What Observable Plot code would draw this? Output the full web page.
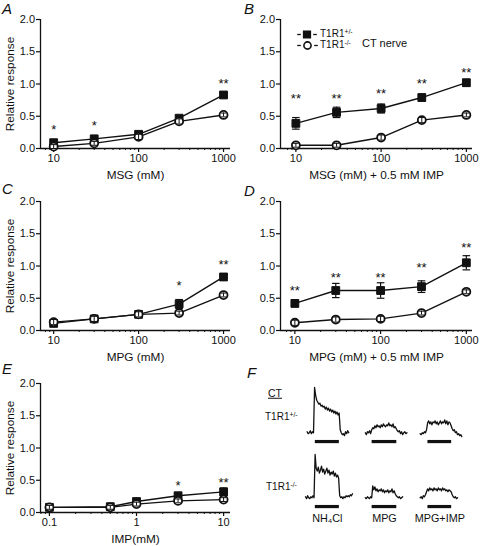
<!DOCTYPE html>
<html>
<head>
<meta charset="utf-8">
<script src="https://cdn.jsdelivr.net/npm/d3@7"></script>
<script src="https://cdn.jsdelivr.net/npm/@observablehq/plot@0.6"></script>
<style>
  body { margin: 0; background: #fff; }
  #fig { position: relative; width: 480px; height: 546px; background: #fff; overflow: hidden;
         font-family: "Liberation Sans", Arial, Helvetica, sans-serif; color: #111; }
  .pl { position: absolute; }
  .lab { position: absolute; line-height: 1; white-space: nowrap; transform: translateY(-50%); }
  .letter { position: absolute; font-style: italic; font-size: 15px; line-height: 1; }
  .sup { position: relative; top: -0.45em; font-size: 0.68em; }
</style>
</head>
<body>
<div id="fig"></div>
<script>
// ---------------- data ----------------
const concMSG = [10, 30, 100, 300, 1000];
const concIMP = [0.1, 0.5, 1, 3, 10];

// Panel A : MSG
const A_het = [0.09, 0.15, 0.22, 0.47, 0.83];
const A_hetErr = [0.03, 0.03, 0.03, 0.03, 0.04];
const A_ko = [0.03, 0.08, 0.18, 0.42, 0.52];
const A_koErr = [0.03, 0.03, 0.04, 0.04, 0.03];
const A_starX = [10, 30, 1000];
const A_starY = [0.35, 0.40, 1.05];
const A_star = ["*", "*", "**"];

// Panel B : MSG + 0.5 mM IMP
const B_het = [0.39, 0.56, 0.62, 0.79, 1.02];
const B_hetErr = [0.09, 0.08, 0.07, 0.05, 0.05];
const B_ko = [0.05, 0.05, 0.17, 0.44, 0.52];
const B_koErr = [0.03, 0.03, 0.04, 0.04, 0.03];
const B_starX = [10, 30, 100, 300, 1000];
const B_starY = [0.83, 0.83, 0.90, 1.06, 1.22];
const B_star = ["**", "**", "**", "**", "**"];

// Panel C : MPG
const C_het = [0.11, 0.18, 0.25, 0.41, 0.83];
const C_hetErr = [0.03, 0.03, 0.04, 0.07, 0.05];
const C_ko = [0.13, 0.18, 0.25, 0.27, 0.55];
const C_koErr = [0.04, 0.04, 0.04, 0.03, 0.03];
const C_starX = [300, 1000];
const C_starY = [0.74, 1.08];
const C_star = ["*", "**"];

// Panel D : MPG + 0.5 mM IMP
const D_het = [0.42, 0.62, 0.62, 0.68, 1.05];
const D_hetErr = [0.05, 0.11, 0.12, 0.09, 0.11];
const D_ko = [0.12, 0.17, 0.18, 0.27, 0.60];
const D_koErr = [0.04, 0.04, 0.04, 0.03, 0.03];
const D_starX = [10, 30, 100, 300, 1000];
const D_starY = [0.67, 0.87, 0.87, 1.03, 1.34];
const D_star = ["**", "**", "**", "**", "**"];

// Panel E : IMP
const E_het = [0.08, 0.09, 0.17, 0.26, 0.32];
const E_hetErr = [0.03, 0.03, 0.03, 0.04, 0.06];
const E_ko = [0.08, 0.08, 0.13, 0.18, 0.20];
const E_koErr = [0.03, 0.03, 0.03, 0.03, 0.03];
const E_starX = [3, 10];
const E_starY = [0.47, 0.52];
const E_star = ["*", "**"];

// axis ticks
const yTicks = [0, 0.5, 1, 1.5, 2];
const msgTicks = [10, 100, 1000];
const msgMinor = [8, 9, 20, 30, 40, 50, 60, 70, 80, 90, 200, 300, 400, 500, 600, 700, 800, 900];
const impTicks = [0.1, 1, 10];
const impMinor = [0.08, 0.09, 0.2, 0.3, 0.4, 0.5, 0.6, 0.7, 0.8, 0.9, 2, 3, 4, 5, 6, 7, 8, 9];

// Panel F : CT nerve traces (amplitude, arbitrary units, one sample per time step)
const stimNames = ["NH₄Cl", "MPG", "MPG+IMP"];
const genoNames = ["T1R1+/-", "T1R1-/-"];
const het_NH4Cl = [1,-1,0,2,-1,1,0, 46,38,33,31,29,30,27,28,26,27,24,26,23,25,22,24,21,23,20,22,19,21,18,20, 3,0,-2,-1,-3,1,-1,2,0];
const het_MPG = [0,-2,1,0,2,-1, 3,5,4,7,5,8,6,7,5,8,6,9,7,6,8,7,10,7,8,6,9,5,6,4, 2,1,2,-1,1,-2,0,1,-1,0];
const het_MPGIMP = [-1,-2,0,-1,1,0, 3,10,12,9,11,8,11,10,12,9,11,8,10,12,9,11,10,13,9,12,8,11,10,7, 4,2,3,0,1,-2,-1,-3,-2,-4];
const ko_NH4Cl = [1,-1,2,0,-1,1,0,2,0, 44,30,27,31,25,28,32,26,29,24,27,30,25,28,23,26,24,27,22,25,21,23,20, 2,0,1,-1,1,0,2,1,2,1,3,2,4];
const ko_MPG = [0,-1,1,0,-1,1,0, 12,8,11,7,9,6,8,7,9,6,8,5,7,6,8,5,7,6,9,5,7,4, 2,1,0,1,-1,0,1];
const ko_MPGIMP = [0,1,-1,2,1,3, 6,9,7,10,8,9,7,10,8,9,7,10,8,9,7,10,8,9,7,8,6,8,7,6, 3,1,0,1,-1,0];
const traceStartHet = [1.5, 2.6, 0.6];   // recording start (time units)
const traceStartKo = [0, 2.6, 0.6];
const stimOn = [9.2, 9.0, 7.9];          // stimulus application period (time units)
const stimOff = [31.7, 32.1, 30.1];
const stimBarLevel = -9;

// ---------------- helpers ----------------
const FONT = '"Liberation Sans", Arial, Helvetica, sans-serif';
const INK = "#111";
const capSymbol = { draw(ctx, size) { const w = Math.sqrt(size / Math.PI); ctx.moveTo(-w, 0); ctx.lineTo(w, 0); } };
const rows = (xs, ys, es) => xs.map((x, i) => ({ x, y: ys[i], lo: ys[i] - es[i], hi: ys[i] + es[i] }));

function panel(cfg) {
  const het = rows(cfg.x, cfg.het, cfg.hetErr);
  const ko = rows(cfg.x, cfg.ko, cfg.koErr);
  const stars = cfg.starX.map((x, i) => ({ x, y: cfg.starY[i], s: cfg.star[i] }));
  const marks = [
    Plot.ruleX([cfg.domain[0]], { stroke: INK, strokeWidth: 1.3 }),
    Plot.ruleY([0], { stroke: INK, strokeWidth: 1.3 }),
    Plot.axisY({ ticks: yTicks, tickFormat: d3.format(".1f"), tickSize: 4, tickPadding: 1.5, label: null, fontSize: 11, strokeWidth: 1.2 }),
    Plot.axisX({ ticks: cfg.ticks, tickFormat: d => String(d), tickSize: 4, tickPadding: 2, label: null, fontSize: 11, strokeWidth: 1.2 }),
    Plot.axisX({ ticks: cfg.minor, tickSize: 2, text: null, label: null }),
    Plot.text([cfg.xlabel], { text: d => d, frameAnchor: "bottom", textAnchor: "middle", dy: 27, fontSize: 11.8, lineAnchor: "middle" }),
    Plot.line(ko, { x: "x", y: "y", stroke: INK, strokeWidth: 1.4 }),
    Plot.line(het, { x: "x", y: "y", stroke: INK, strokeWidth: 1.4 }),
    Plot.ruleX(het, { x: "x", y1: "lo", y2: "hi", stroke: INK, strokeWidth: 1.2 }),
    Plot.dot(het, { x: "x", y: "lo", symbol: capSymbol, r: 3.8, fill: "none", stroke: INK, strokeWidth: 1.2 }),
    Plot.dot(het, { x: "x", y: "hi", symbol: capSymbol, r: 3.8, fill: "none", stroke: INK, strokeWidth: 1.2 }),
    Plot.dot(het, { x: "x", y: "y", symbol: "square", r: 4.4, fill: INK, stroke: INK, strokeWidth: 1 }),
    Plot.dot(ko, { x: "x", y: "y", symbol: "circle", r: 4, fill: "white", stroke: INK, strokeWidth: 1.8 }),
    Plot.ruleX(ko, { x: "x", y1: "lo", y2: "hi", stroke: INK, strokeWidth: 1 }),
    Plot.dot(ko, { x: "x", y: "lo", symbol: capSymbol, r: 2.8, fill: "none", stroke: INK, strokeWidth: 1 }),
    Plot.dot(ko, { x: "x", y: "hi", symbol: capSymbol, r: 2.8, fill: "none", stroke: INK, strokeWidth: 1 }),
    Plot.text(stars, { x: "x", y: "y", text: "s", fontSize: 13, dy: 3.5 })
  ];
  if (cfg.ylabel) marks.push(Plot.text([cfg.ylabel], { text: d => d, frameAnchor: "left", textAnchor: "middle", lineAnchor: "middle", rotate: -90, dx: -30, fontSize: 11.8 }));
  if (cfg.extra) marks.push(...cfg.extra);
  return Plot.plot({
    width: 240, height: 182,
    marginLeft: 40, marginRight: cfg.marginRight, marginTop: 19, marginBottom: 34,
    style: { fontFamily: FONT, fontSize: "11px", color: INK, background: "transparent", overflow: "visible" },
    x: { type: "log", domain: cfg.domain },
    y: { domain: [0, 2] },
    marks
  });
}

const fig = document.getElementById("fig");
function place(node, left, top) { node.classList.add("pl"); node.style.left = left + "px"; node.style.top = top + "px"; fig.appendChild(node); }

// legend symbols inside B (drawn with Plot marks anchored to the frame)
const legendMarks = [
  Plot.dot([0], { frameAnchor: "top-left", dx: 18.5, dy: 15, symbol: capSymbol, r: 1.8, stroke: INK, strokeWidth: 1.3 }),
  Plot.dot([0], { frameAnchor: "top-left", dx: 26.5, dy: 15, symbol: "square", r: 3.8, fill: INK, stroke: INK }),
  Plot.dot([0], { frameAnchor: "top-left", dx: 34.5, dy: 15, symbol: capSymbol, r: 1.8, stroke: INK, strokeWidth: 1.3 }),
  Plot.dot([0], { frameAnchor: "top-left", dx: 18.5, dy: 26, symbol: capSymbol, r: 1.8, stroke: INK, strokeWidth: 1.3 }),
  Plot.dot([0], { frameAnchor: "top-left", dx: 27, dy: 26, symbol: "circle", r: 3.6, fill: "white", stroke: INK, strokeWidth: 1.6 }),
  Plot.dot([0], { frameAnchor: "top-left", dx: 35.5, dy: 26, symbol: capSymbol, r: 1.8, stroke: INK, strokeWidth: 1.3 })
];

place(panel({ x: concMSG, het: A_het, hetErr: A_hetErr, ko: A_ko, koErr: A_koErr, starX: A_starX, starY: A_starY, star: A_star,
  domain: [7.0, 1208], marginRight: 10, ticks: msgTicks, minor: msgMinor, xlabel: "MSG (mM)", ylabel: "Relative response" }), 0, 0);
place(panel({ x: concMSG, het: B_het, hetErr: B_hetErr, ko: B_ko, koErr: B_koErr, starX: B_starX, starY: B_starY, star: B_star,
  domain: [6.6, 1180], marginRight: 8, ticks: msgTicks, minor: msgMinor, xlabel: "MSG (mM) + 0.5 mM IMP", ylabel: null, extra: legendMarks }), 240, 0);
place(panel({ x: concMSG, het: C_het, hetErr: C_hetErr, ko: C_ko, koErr: C_koErr, starX: C_starX, starY: C_starY, star: C_star,
  domain: [7.0, 1208], marginRight: 10, ticks: msgTicks, minor: msgMinor, xlabel: "MPG (mM)", ylabel: "Relative response" }), 0, 182);
place(panel({ x: concMSG, het: D_het, hetErr: D_hetErr, ko: D_ko, koErr: D_koErr, starX: D_starX, starY: D_starY, star: D_star,
  domain: [6.8, 1180], marginRight: 8, ticks: msgTicks, minor: msgMinor, xlabel: "MPG (mM) + 0.5 mM IMP", ylabel: null }), 240, 182);
place(panel({ x: concIMP, het: E_het, hetErr: E_hetErr, ko: E_ko, koErr: E_koErr, starX: E_starX, starY: E_starY, star: E_star,
  domain: [0.079, 12], marginRight: 10, ticks: impTicks, minor: impMinor, xlabel: "IMP(mM)", ylabel: "Relative response" }), 0, 364);

// ---------------- Panel F ----------------
const traceSets = [
  [het_NH4Cl, het_MPG, het_MPGIMP],
  [ko_NH4Cl, ko_MPG, ko_MPGIMP]
];
const starts = [traceStartHet, traceStartKo];
const traceRows = [];
traceSets.forEach((set, g) => set.forEach((vals, s) => vals.forEach((v, i) =>
  traceRows.push({ stim: stimNames[s], geno: genoNames[g], t: starts[g][s] + i, v }))));
const barRows = [];
genoNames.forEach(g => stimNames.forEach((s, k) => barRows.push({ stim: s, geno: g, on: stimOn[k], off: stimOff[k], lvl: stimBarLevel })));
const stimLabelRows = stimNames.map((s, k) => ({ stim: s, geno: genoNames[1], t: (stimOn[k] + stimOff[k]) / 2, lvl: stimBarLevel }));

const plotF = Plot.plot({
  width: 162, height: 146,
  marginLeft: 0, marginRight: 0, marginTop: 0, marginBottom: 20,
  style: { fontFamily: FONT, fontSize: "10.5px", color: INK, background: "transparent", overflow: "visible" },
  fx: { domain: stimNames, paddingInner: 0.167, paddingOuter: 0, axis: null },
  fy: { domain: genoNames, paddingInner: 0.09, paddingOuter: 0, axis: null },
  x: { domain: [0, 44], axis: null },
  y: { domain: [-12, 48], axis: null },
  marks: [
    Plot.line(traceRows, { fx: "stim", fy: "geno", x: "t", y: "v", z: d => d.stim + d.geno, stroke: INK, strokeWidth: 1.3 }),
    Plot.ruleY(barRows, { fx: "stim", fy: "geno", x1: "on", x2: "off", y: "lvl", stroke: INK, strokeWidth: 3.2 }),
    Plot.text(stimLabelRows, { fx: "stim", fy: "geno", x: "t", y: "lvl", text: "stim", dy: 12, fontSize: 10.8, lineAnchor: "middle" })
  ]
});
place(plotF, 305, 384);

// ---------------- HTML text: panel letters, legend, F labels ----------------
function addHTML(html, cls, left, top, extra) {
  const d = document.createElement("div");
  d.className = cls; d.innerHTML = html; d.style.left = left + "px"; d.style.top = top + "px";
  if (extra) Object.assign(d.style, extra);
  fig.appendChild(d);
}
addHTML("A", "letter", 2, 1);
addHTML("B", "letter", 244, 1);
addHTML("C", "letter", 2, 181);
addHTML("D", "letter", 244, 183);
addHTML("E", "letter", 2, 361);
addHTML("F", "letter", 247, 365);

addHTML('T1R1<span class="sup">+/-</span>', "lab", 320, 34, { fontSize: "10px" });
addHTML('T1R1<span class="sup">-/-</span>', "lab", 320, 45, { fontSize: "10px" });
addHTML("CT nerve", "lab", 362, 43, { fontSize: "11px" });

addHTML('<span style="text-decoration: underline">CT</span>', "lab", 268, 393, { fontSize: "10.5px" });
addHTML('T1R1<span class="sup">+/-</span>', "lab", 265, 417, { fontSize: "10px" });
addHTML('T1R1<span class="sup">-/-</span>', "lab", 266, 487, { fontSize: "10px" });
</script>
</body>
</html>
